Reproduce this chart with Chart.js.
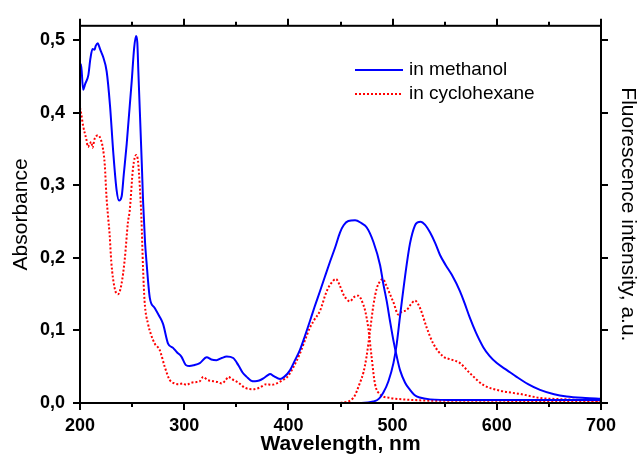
<!DOCTYPE html>
<html>
<head>
<meta charset="utf-8">
<script src="https://cdn.jsdelivr.net/npm/chart.js@4/dist/chart.umd.min.js"></script>
<style>
  html, body { margin: 0; padding: 0; background: #fff; }
  #wrap { width: 640px; height: 457px; }
</style>
</head>
<body>
<div id="wrap"><canvas id="spectra"></canvas></div>
<script>
// Absorbance in methanol
const methAbsWl = [200, 201, 203, 205, 208, 210, 212, 214, 215, 217, 218, 220, 222, 225.6, 228.8, 232, 235, 237.5, 240, 242, 244.8, 249.6, 252, 253.8, 255, 256, 259.3, 260.6, 262.4, 263.8, 267, 271.7, 276, 279.7, 284.5, 289.3, 293, 297.3, 301.9, 305, 309, 315, 321.6, 326, 331, 336, 340.8, 347, 352, 356, 360, 364, 368, 372, 376, 380, 382.4, 386, 392, 396, 401.5, 406, 411, 416, 420.7, 425, 430.3, 435, 440, 445, 449.5, 453, 457.5, 464, 470, 475.2, 481.6, 488, 491, 494.4, 497.5, 500.8, 504, 507.2, 512, 516.7, 521, 526, 536, 560, 600, 650, 700];
const methAbs = [0.460, 0.467, 0.432, 0.440, 0.452, 0.475, 0.488, 0.487, 0.492, 0.496, 0.493, 0.485, 0.478, 0.457, 0.410, 0.344, 0.295, 0.279, 0.285, 0.315, 0.357, 0.443, 0.490, 0.506, 0.497, 0.457, 0.330, 0.276, 0.222, 0.195, 0.145, 0.131, 0.120, 0.109, 0.082, 0.076, 0.070, 0.064, 0.052, 0.051, 0.052, 0.055, 0.063, 0.060, 0.059, 0.062, 0.064, 0.062, 0.052, 0.042, 0.036, 0.031, 0.030, 0.031, 0.034, 0.038, 0.040, 0.037, 0.033, 0.036, 0.045, 0.058, 0.073, 0.093, 0.113, 0.132, 0.154, 0.174, 0.195, 0.215, 0.235, 0.245, 0.251, 0.252, 0.248, 0.242, 0.222, 0.190, 0.165, 0.140, 0.113, 0.086, 0.064, 0.045, 0.028, 0.018, 0.011, 0.0075, 0.005, 0.004, 0.004, 0.004, 0.004];

// Fluorescence in methanol
const methFlWl = [450, 470, 481.6, 487, 491, 496, 500.8, 504, 507, 512, 516.7, 521.5, 524, 527, 531, 536, 541, 545.5, 551, 556.7, 564.7, 569, 574, 580, 587, 593, 600, 610, 619, 630, 641.5, 655, 667, 685, 700];
const methFl = [0.000, 0.000, 0.002, 0.006, 0.014, 0.030, 0.055, 0.082, 0.118, 0.175, 0.220, 0.245, 0.249, 0.250, 0.246, 0.235, 0.220, 0.204, 0.190, 0.177, 0.154, 0.138, 0.118, 0.097, 0.077, 0.065, 0.055, 0.045, 0.036, 0.026, 0.018, 0.012, 0.009, 0.007, 0.006];

// Absorbance in cyclohexane
const cycAbsWl = [200, 201, 203, 206, 207.7, 209, 210.9, 212, 214, 217.3, 219.8, 222, 223.8, 225.3, 227, 228.5, 230, 233.3, 236.5, 239.7, 243, 246, 247.7, 250.9, 254, 255.7, 257.3, 258.9, 260.5, 262, 265.3, 268, 271.7, 276.5, 281.3, 286, 290.8, 295, 298.8, 302, 307, 312, 315, 318.3, 322, 328, 332, 336, 340, 342.4, 345, 347, 352, 358.3, 366.3, 372, 379, 384, 388.8, 394, 399, 405, 411, 416, 420.7, 425, 430.3, 436.7, 441, 445.7, 449, 452.7, 456, 459, 463, 467, 471.8, 474, 476.6, 479.8, 483, 488, 497.5, 510, 550, 600, 650, 700];
const cycAbs = [0.407, 0.400, 0.382, 0.364, 0.353, 0.356, 0.360, 0.352, 0.364, 0.369, 0.364, 0.351, 0.328, 0.287, 0.256, 0.231, 0.195, 0.158, 0.150, 0.163, 0.199, 0.249, 0.265, 0.324, 0.342, 0.333, 0.301, 0.256, 0.186, 0.140, 0.109, 0.095, 0.082, 0.073, 0.050, 0.032, 0.027, 0.026, 0.027, 0.025, 0.028, 0.029, 0.030, 0.036, 0.032, 0.030, 0.029, 0.027, 0.032, 0.036, 0.034, 0.032, 0.028, 0.021, 0.019, 0.021, 0.026, 0.025, 0.027, 0.031, 0.036, 0.050, 0.068, 0.087, 0.104, 0.115, 0.127, 0.154, 0.165, 0.171, 0.163, 0.150, 0.143, 0.140, 0.146, 0.148, 0.136, 0.125, 0.104, 0.064, 0.027, 0.012, 0.007, 0.005, 0.003, 0.003, 0.002, 0.002];

// Fluorescence in cyclohexane
const cycFlWl = [450, 462.3, 468.7, 472, 475, 478.4, 481.6, 484.8, 488, 490.4, 494, 497.5, 501, 505.5, 509, 513.5, 517, 521.5, 526.3, 532.7, 539, 548.7, 556, 564.7, 574.3, 587, 603, 622.3, 641.5, 667, 700];
const cycFl = [0.000, 0.007, 0.028, 0.042, 0.064, 0.100, 0.135, 0.158, 0.168, 0.171, 0.162, 0.150, 0.138, 0.122, 0.126, 0.128, 0.135, 0.141, 0.131, 0.104, 0.082, 0.064, 0.060, 0.055, 0.041, 0.025, 0.017, 0.0125, 0.007, 0.005, 0.003];

const seriesNames = ["in methanol", "in cyclohexane"];
const xTicks = [200, 300, 400, 500, 600, 700];
const yTicks = [0, 0.1, 0.2, 0.3, 0.4, 0.5];

const BLUE = "#0000ff";
const RED = "#ff0000";
const FONT = "'Liberation Sans', Arial, sans-serif";

function pts(xs, ys) {
  return xs.map((x, i) => ({ x: x, y: ys[i] }));
}

function line(opts) {
  return Object.assign({ pointRadius: 0, borderWidth: 2, cubicInterpolationMode: "monotone", fill: false }, opts);
}

// frame, outward ticks and the legend inside the plot
const framePlugin = {
  id: "frame",
  afterDraw(chart) {
    const { ctx, chartArea: a, scales } = chart;
    const x = scales.x, y = scales.y;
    ctx.save();
    ctx.strokeStyle = "#000";
    ctx.lineWidth = 2;
    ctx.strokeRect(a.left, a.top, a.right - a.left, a.bottom - a.top);
    ctx.beginPath();
    for (let v = xTicks[0]; v <= xTicks[xTicks.length - 1]; v += 50) {
      const px = Math.round(x.getPixelForValue(v));
      const len = v % 100 === 0 ? 7 : 4;
      ctx.moveTo(px, a.bottom); ctx.lineTo(px, a.bottom + len);
      ctx.moveTo(px, a.top); ctx.lineTo(px, a.top - len);
    }
    yTicks.forEach((v) => {
      const py = Math.round(y.getPixelForValue(v));
      ctx.moveTo(a.left, py); ctx.lineTo(a.left - 7, py);
      ctx.moveTo(a.right, py); ctx.lineTo(a.right + 7, py);
    });
    ctx.stroke();

    // legend
    const lx = 355, ly = 70, gap = 24;
    ctx.lineWidth = 2;
    ctx.strokeStyle = BLUE;
    ctx.beginPath(); ctx.moveTo(lx, ly); ctx.lineTo(lx + 48, ly); ctx.stroke();
    ctx.strokeStyle = RED;
    ctx.setLineDash([2, 2]);
    ctx.beginPath(); ctx.moveTo(lx, ly + gap); ctx.lineTo(lx + 48, ly + gap); ctx.stroke();
    ctx.setLineDash([]);
    ctx.fillStyle = "#000";
    ctx.font = "19px " + FONT;
    ctx.textBaseline = "middle";
    ctx.fillText(seriesNames[0], lx + 54, ly);
    ctx.fillText(seriesNames[1], lx + 54, ly + gap);
    ctx.restore();
  }
};

const ctx = document.getElementById("spectra").getContext("2d");
new Chart(ctx, {
  type: "line",
  data: {
    datasets: [
      line({ label: seriesNames[0], data: pts(methAbsWl, methAbs), borderColor: BLUE, yAxisID: "y" }),
      line({ label: seriesNames[0], data: pts(methFlWl, methFl), borderColor: BLUE, yAxisID: "y2" }),
      line({ label: seriesNames[1], data: pts(cycAbsWl, cycAbs), borderColor: RED, borderDash: [2, 2], yAxisID: "y" }),
      line({ label: seriesNames[1], data: pts(cycFlWl, cycFl), borderColor: RED, borderDash: [2, 2], yAxisID: "y2" }),
    ],
  },
  options: {
    responsive: true,
    maintainAspectRatio: false,
    animation: false,
    layout: { padding: { top: 20, left: 0, right: 0, bottom: 0 } },
    plugins: { legend: { display: false }, tooltip: { enabled: false } },
    scales: {
      x: {
        type: "linear",
        min: 200,
        max: 700,
        afterFit: (s) => { s.height = 54; },
        grid: { display: false, drawTicks: false },
        border: { display: false },
        ticks: {
          stepSize: 100,
          padding: 12,
          color: "#000",
          font: { family: FONT, size: 18, weight: "bold" },
        },
        title: {
          display: true,
          text: "Wavelength, nm",
          color: "#000",
          padding: { top: 0, bottom: 0 },
          font: { family: FONT, size: 21, weight: "bold" },
        },
      },
      y: {
        position: "left",
        min: 0,
        max: 0.52,
        afterFit: (s) => { s.width = 80; },
        afterBuildTicks: (s) => { s.ticks = yTicks.map((v) => ({ value: v })); },
        grid: { display: false, drawTicks: false },
        border: { display: false },
        ticks: {
          padding: 15,
          color: "#000",
          font: { family: FONT, size: 18, weight: "bold" },
          callback: (v) => v.toFixed(1).replace(".", ","),
        },
        title: {
          display: true,
          text: "Absorbance",
          color: "#000",
          padding: { top: 9, bottom: 0 },
          font: { family: FONT, size: 21 },
        },
      },
      y2: {
        position: "right",
        min: 0,
        max: 0.52,
        afterFit: (s) => { s.width = 39; },
        grid: { display: false, drawTicks: false },
        border: { display: false },
        ticks: { display: false },
        title: {
          display: true,
          text: "Fluorescence intensity, a.u.",
          color: "#000",
          padding: { top: 0, bottom: 0 },
          font: { family: FONT, size: 21 },
        },
      },
    },
  },
  plugins: [framePlugin],
});
</script>
</body>
</html>
